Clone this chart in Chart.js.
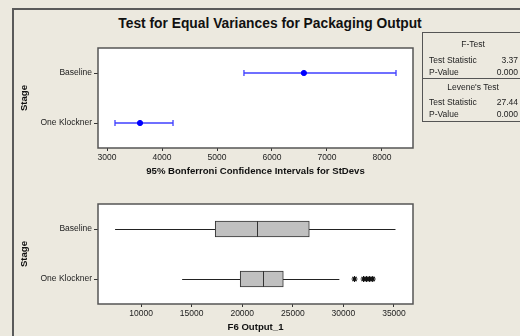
<!DOCTYPE html>
<html>
<head>
<meta charset="utf-8">
<script src="https://cdn.jsdelivr.net/npm/chart.js@4/dist/chart.umd.min.js"></script>
<style>
  body { margin: 0; width: 520px; height: 336px; background: #ECE9DF; overflow: hidden; position: relative;
         font-family: "Liberation Sans", Arial, sans-serif; color: #222; }
  #frame { position: absolute; left: 12px; top: 8px; width: 600px; height: 400px; border: 2px solid #5a5a5a; box-sizing: border-box; }
  #title { position: absolute; left: 0; width: 540px; top: 16px; text-align: center; font-weight: bold; font-size: 13.8px; color: #111; }
  .box { position: absolute; }
  #tests { position: absolute; left: 422px; top: 32px; width: 120px; height: 90px; border: 1px solid #555; box-sizing: border-box; font-size: 8.5px; }
  #tests .row { position: absolute; left: 6px; width: 89px; }
  #tests .row span { position: absolute; right: 0; }
  #tests .hd { position: absolute; left: 0; width: 100px; text-align: center; }
  #tests .sep { position: absolute; left: 0; width: 120px; top: 45px; border-top: 1px solid #555; }
</style>
</head>
<body>
<div id="frame"></div>
<div id="title">Test for Equal Variances for Packaging Output</div>

<div class="box" style="left:14px; top:34px; width:420px; height:145px;"><canvas id="ciChart"></canvas></div>
<div class="box" style="left:14px; top:190px; width:420px; height:145px;"><canvas id="boxChart"></canvas></div>

<div id="tests">
  <div class="hd" style="top:6px;">F-Test</div>
  <div class="row" style="top:22px;">Test Statistic<span>3.37</span></div>
  <div class="row" style="top:34px;">P-Value<span>0.000</span></div>
  <div class="sep"></div>
  <div class="hd" style="top:49px;">Levene's Test</div>
  <div class="row" style="top:64px;">Test Statistic<span>27.44</span></div>
  <div class="row" style="top:76px;">P-Value<span>0.000</span></div>
</div>

<script>
const stages = ['Baseline', 'One Klockner'];

// 95% Bonferroni confidence intervals for StDevs
const sdLower = [5490, 3145];
const sdEstimate = [6580, 3600];
const sdUpper = [8255, 4200];

// boxplot of F6 Output_1
const boxMin = [7430, 14060];
const boxQ1 = [17330, 19800];
const boxMedian = [21490, 22080];
const boxQ3 = [26630, 24060];
const boxMax = [35150, 29600];
const outlierStage = ['One Klockner', 'One Klockner', 'One Klockner', 'One Klockner', 'One Klockner'];
const outlierValues = [31100, 32000, 32300, 32600, 32900];

const ciTicks = [3000, 4000, 5000, 6000, 7000, 8000];
const boxTicks = [10000, 15000, 20000, 25000, 30000, 35000];

const tickFont = { family: '"Liberation Sans", Arial, sans-serif', size: 8.5 };
const titleFont = { family: '"Liberation Sans", Arial, sans-serif', size: 9.6, weight: 'bold' };

const plotFrame = {
  id: 'plotFrame',
  beforeDraw(chart) {
    const { ctx, chartArea: a } = chart;
    ctx.save();
    ctx.fillStyle = '#ffffff';
    ctx.fillRect(a.left, a.top, a.right - a.left, a.bottom - a.top);
    ctx.restore();
  },
  afterDraw(chart) {
    const { ctx, chartArea: a } = chart;
    ctx.save();
    ctx.strokeStyle = '#555';
    ctx.lineWidth = 1.5;
    ctx.strokeRect(a.left, a.top, a.right - a.left, a.bottom - a.top);
    ctx.restore();
  }
};

function fixedTicks(values) {
  return function(scale) {
    scale.ticks = values.map(v => ({ value: v }));
  };
}

function yAxis() {
  return {
    type: 'category',
    labels: stages,
    offset: true,
    afterFit(scale) { scale.width = 84; },
    border: { display: false },
    grid: { offset: false, drawOnChartArea: false, tickLength: 4, color: '#333' },
    ticks: { font: tickFont, color: '#222', padding: 2 },
    title: { display: true, text: 'Stage', font: titleFont, color: '#111', padding: { top: 5, bottom: 0 } }
  };
}

function xAxis(min, max, values, label) {
  return {
    type: 'linear',
    min: min,
    max: max,
    afterBuildTicks: fixedTicks(values),
    afterFit(scale) { scale.height = 31; },
    border: { display: false },
    grid: { drawOnChartArea: false, tickLength: 3, color: '#333' },
    ticks: { font: tickFont, color: '#222', padding: 2, maxRotation: 0, callback: v => String(v) },
    title: { display: true, text: label, font: titleFont, color: '#111', padding: { top: 0, bottom: 2 } }
  };
}

// confidence interval bars
const ciBars = {
  id: 'ciBars',
  beforeDatasetsDraw(chart) {
    const { ctx, scales: { x, y } } = chart;
    ctx.save();
    ctx.strokeStyle = '#4040ff';
    ctx.lineWidth = 1.3;
    stages.forEach((s, i) => {
      const py = y.getPixelForValue(i);
      const x0 = x.getPixelForValue(sdLower[i]);
      const x1 = x.getPixelForValue(sdUpper[i]);
      ctx.beginPath();
      ctx.moveTo(x0, py); ctx.lineTo(x1, py);
      ctx.moveTo(x0, py - 3); ctx.lineTo(x0, py + 3);
      ctx.moveTo(x1, py - 3); ctx.lineTo(x1, py + 3);
      ctx.stroke();
    });
    ctx.restore();
  }
};

new Chart(document.getElementById('ciChart'), {
  type: 'scatter',
  data: {
    datasets: [{
      data: stages.map((s, i) => ({ x: sdEstimate[i], y: s })),
      backgroundColor: '#0000ff',
      borderColor: '#0000ff',
      pointRadius: 2.6
    }]
  },
  options: {
    responsive: true,
    maintainAspectRatio: false,
    animation: false,
    layout: { padding: { top: 14, right: 21, left: 0, bottom: 0 } },
    plugins: { legend: { display: false }, tooltip: { enabled: false } },
    scales: {
      x: xAxis(2836, 8564, ciTicks, '95% Bonferroni Confidence Intervals for StDevs'),
      y: yAxis()
    }
  },
  plugins: [plotFrame, ciBars]
});

// whiskers and medians
const boxParts = {
  id: 'boxParts',
  beforeDatasetsDraw(chart) {
    const { ctx, scales: { x, y } } = chart;
    ctx.save();
    ctx.strokeStyle = '#222';
    ctx.lineWidth = 1;
    stages.forEach((s, i) => {
      const py = Math.round(y.getPixelForValue(i)) + 0.5;
      ctx.beginPath();
      ctx.moveTo(x.getPixelForValue(boxMin[i]), py);
      ctx.lineTo(x.getPixelForValue(boxMax[i]), py);
      ctx.stroke();
    });
    ctx.restore();
  },
  afterDatasetsDraw(chart) {
    const { ctx, scales: { x, y } } = chart;
    ctx.save();
    ctx.strokeStyle = '#333';
    ctx.lineWidth = 1;
    stages.forEach((s, i) => {
      const py = y.getPixelForValue(i);
      const px = Math.round(x.getPixelForValue(boxMedian[i])) + 0.5;
      ctx.beginPath();
      ctx.moveTo(px, py - 8); ctx.lineTo(px, py + 8);
      ctx.stroke();
    });
    ctx.restore();
  }
};

new Chart(document.getElementById('boxChart'), {
  type: 'bar',
  data: {
    labels: stages,
    datasets: [{
      data: stages.map((s, i) => [boxQ1[i], boxQ3[i]]),
      backgroundColor: '#c0c0c0',
      borderColor: '#333',
      borderWidth: 1,
      borderSkipped: false,
      barThickness: 16
    }, {
      type: 'scatter',
      data: outlierValues.map((v, i) => ({ x: v, y: outlierStage[i] })),
      pointStyle: 'star',
      pointRadius: 3,
      borderColor: '#111',
      borderWidth: 1.2,
      backgroundColor: '#111'
    }]
  },
  options: {
    indexAxis: 'y',
    responsive: true,
    maintainAspectRatio: false,
    animation: false,
    layout: { padding: { top: 14, right: 21, left: 0, bottom: 0 } },
    plugins: { legend: { display: false }, tooltip: { enabled: false } },
    scales: {
      x: xAxis(5743, 36880, boxTicks, 'F6 Output_1'),
      y: yAxis()
    }
  },
  plugins: [plotFrame, boxParts]
});
</script>
</body>
</html>
